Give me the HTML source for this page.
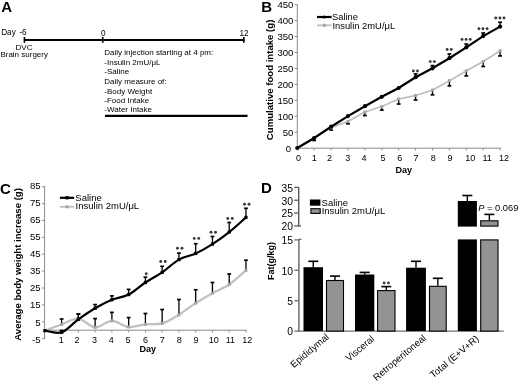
<!DOCTYPE html>
<html><head><meta charset="utf-8"><style>
html,body{margin:0;padding:0;background:#fff;width:520px;height:382px;overflow:hidden}
svg{display:block;filter:grayscale(1)}
text{font-family:"Liberation Sans", sans-serif;fill:#000}
</style></head><body>
<svg width="520" height="382" viewBox="0 0 520 382">
<text x="1.2" y="12.1" font-size="15" font-weight="bold">A</text>
<text x="1.2" y="35.1" font-size="8.2">Day</text>
<text x="19.4" y="35.3" font-size="8.2">-6</text>
<line x1="24" y1="40" x2="244.5" y2="40" stroke="#000" stroke-width="2.2"/>
<line x1="24.4" y1="37" x2="24.4" y2="42.8" stroke="#000" stroke-width="1.6"/>
<line x1="102.7" y1="37" x2="102.7" y2="42.8" stroke="#000" stroke-width="1.6"/>
<line x1="243.8" y1="37" x2="243.8" y2="42.8" stroke="#000" stroke-width="1.6"/>
<text x="100.9" y="35.5" font-size="8.2">0</text>
<text x="239.5" y="35.5" font-size="8.2">12</text>
<text x="15.6" y="50.1" font-size="8">DVC</text>
<text x="0.4" y="56.7" font-size="8">Brain surgery</text>
<text x="104.3" y="55.0" font-size="8">Daily injection starting at 4 pm:</text>
<text x="104.3" y="64.6" font-size="8">-Insulin 2mU/&#956;L</text>
<text x="104.3" y="73.9" font-size="8">-Saline</text>
<text x="104.3" y="84.2" font-size="8">Daily measure of:</text>
<text x="104.3" y="93.5" font-size="8">-Body Weight</text>
<text x="104.3" y="102.8" font-size="8">-Food Intake</text>
<text x="104.3" y="112.3" font-size="8">-Water Intake</text>
<line x1="105" y1="115.8" x2="247.5" y2="115.8" stroke="#000" stroke-width="2.2"/>
<text x="261.2" y="11.8" font-size="15" font-weight="bold">B</text>
<line x1="297.3" y1="4.2" x2="297.3" y2="148.7" stroke="#8a8a8a" stroke-width="1"/>
<line x1="294.8" y1="148.2" x2="297.3" y2="148.2" stroke="#8a8a8a" stroke-width="1"/>
<text x="291.2" y="151.5" font-size="9.6" text-anchor="end">0</text>
<line x1="294.8" y1="132.25555555555553" x2="297.3" y2="132.25555555555553" stroke="#8a8a8a" stroke-width="1"/>
<text x="293.4" y="135.56" font-size="9.6" text-anchor="end">50</text>
<line x1="294.8" y1="116.3111111111111" x2="297.3" y2="116.3111111111111" stroke="#8a8a8a" stroke-width="1"/>
<text x="293.4" y="119.61" font-size="9.6" text-anchor="end">100</text>
<line x1="294.8" y1="100.36666666666665" x2="297.3" y2="100.36666666666665" stroke="#8a8a8a" stroke-width="1"/>
<text x="293.4" y="103.67" font-size="9.6" text-anchor="end">150</text>
<line x1="294.8" y1="84.42222222222222" x2="297.3" y2="84.42222222222222" stroke="#8a8a8a" stroke-width="1"/>
<text x="293.4" y="87.72" font-size="9.6" text-anchor="end">200</text>
<line x1="294.8" y1="68.47777777777776" x2="297.3" y2="68.47777777777776" stroke="#8a8a8a" stroke-width="1"/>
<text x="293.4" y="71.78" font-size="9.6" text-anchor="end">250</text>
<line x1="294.8" y1="52.53333333333332" x2="297.3" y2="52.53333333333332" stroke="#8a8a8a" stroke-width="1"/>
<text x="293.4" y="55.83" font-size="9.6" text-anchor="end">300</text>
<line x1="294.8" y1="36.588888888888874" x2="297.3" y2="36.588888888888874" stroke="#8a8a8a" stroke-width="1"/>
<text x="293.4" y="39.89" font-size="9.6" text-anchor="end">350</text>
<line x1="294.8" y1="20.64444444444443" x2="297.3" y2="20.64444444444443" stroke="#8a8a8a" stroke-width="1"/>
<text x="293.4" y="23.94" font-size="9.6" text-anchor="end">400</text>
<line x1="294.8" y1="4.699999999999989" x2="297.3" y2="4.699999999999989" stroke="#8a8a8a" stroke-width="1"/>
<text x="293.4" y="8.0" font-size="9.6" text-anchor="end">450</text>
<line x1="297.3" y1="148.2" x2="500.8" y2="148.2" stroke="#8a8a8a" stroke-width="1"/>
<line x1="297.3" y1="148.2" x2="297.3" y2="150.39999999999998" stroke="#8a8a8a" stroke-width="1"/>
<text x="298.5" y="161.0" font-size="9" text-anchor="middle">0</text>
<line x1="314.2" y1="148.2" x2="314.2" y2="150.39999999999998" stroke="#8a8a8a" stroke-width="1"/>
<text x="314.2" y="161.0" font-size="9" text-anchor="middle">1</text>
<line x1="331.1" y1="148.2" x2="331.1" y2="150.39999999999998" stroke="#8a8a8a" stroke-width="1"/>
<text x="329.6" y="161.0" font-size="9" text-anchor="middle">2</text>
<line x1="348.0" y1="148.2" x2="348.0" y2="150.39999999999998" stroke="#8a8a8a" stroke-width="1"/>
<text x="347.7" y="161.0" font-size="9" text-anchor="middle">3</text>
<line x1="364.9" y1="148.2" x2="364.9" y2="150.39999999999998" stroke="#8a8a8a" stroke-width="1"/>
<text x="364.0" y="161.0" font-size="9" text-anchor="middle">4</text>
<line x1="381.8" y1="148.2" x2="381.8" y2="150.39999999999998" stroke="#8a8a8a" stroke-width="1"/>
<text x="383.1" y="161.0" font-size="9" text-anchor="middle">5</text>
<line x1="398.7" y1="148.2" x2="398.7" y2="150.39999999999998" stroke="#8a8a8a" stroke-width="1"/>
<text x="399.7" y="161.0" font-size="9" text-anchor="middle">6</text>
<line x1="415.6" y1="148.2" x2="415.6" y2="150.39999999999998" stroke="#8a8a8a" stroke-width="1"/>
<text x="415.9" y="161.0" font-size="9" text-anchor="middle">7</text>
<line x1="432.5" y1="148.2" x2="432.5" y2="150.39999999999998" stroke="#8a8a8a" stroke-width="1"/>
<text x="433.3" y="161.0" font-size="9" text-anchor="middle">8</text>
<line x1="449.4" y1="148.2" x2="449.4" y2="150.39999999999998" stroke="#8a8a8a" stroke-width="1"/>
<text x="450.1" y="161.0" font-size="9" text-anchor="middle">9</text>
<line x1="466.3" y1="148.2" x2="466.3" y2="150.39999999999998" stroke="#8a8a8a" stroke-width="1"/>
<text x="470.3" y="161.0" font-size="9" text-anchor="middle">10</text>
<line x1="483.2" y1="148.2" x2="483.2" y2="150.39999999999998" stroke="#8a8a8a" stroke-width="1"/>
<text x="487.2" y="161.0" font-size="9" text-anchor="middle">11</text>
<line x1="500.1" y1="148.2" x2="500.1" y2="150.39999999999998" stroke="#8a8a8a" stroke-width="1"/>
<text x="504.1" y="161.0" font-size="9" text-anchor="middle">12</text>
<text x="395.4" y="172.7" font-size="9" font-weight="bold">Day</text>
<text transform="translate(272.6,79.9) rotate(-90)" font-size="9.6" font-weight="bold" text-anchor="middle">Cumulative food intake (g)</text>
<polyline points="297.30,148 314.20,138 331.10,127.7 348.00,121.4 364.90,112 381.80,106.5 398.70,99 415.60,95.5 432.50,90.1 449.40,80.7 466.30,70.9 483.20,61.5 500.10,50.7" fill="none" stroke="#c0c0c0" stroke-width="1.8"/>
<line x1="314.2" y1="138" x2="314.2" y2="140.5" stroke="#000" stroke-width="1.3"/>
<line x1="312.3" y1="140.5" x2="316.09999999999997" y2="140.5" stroke="#000" stroke-width="1.7"/>
<rect x="312.70" y="136.5" width="3" height="3" fill="#a5a5a5"/>
<line x1="331.1" y1="127.7" x2="331.1" y2="130" stroke="#000" stroke-width="1.3"/>
<line x1="329.20000000000005" y1="130" x2="333.0" y2="130" stroke="#000" stroke-width="1.7"/>
<rect x="329.60" y="126.2" width="3" height="3" fill="#a5a5a5"/>
<line x1="348.0" y1="121.4" x2="348.0" y2="123.8" stroke="#000" stroke-width="1.3"/>
<line x1="346.1" y1="123.8" x2="349.9" y2="123.8" stroke="#000" stroke-width="1.7"/>
<rect x="346.50" y="119.9" width="3" height="3" fill="#a5a5a5"/>
<line x1="364.9" y1="112" x2="364.9" y2="115.6" stroke="#000" stroke-width="1.3"/>
<line x1="363.0" y1="115.6" x2="366.79999999999995" y2="115.6" stroke="#000" stroke-width="1.7"/>
<rect x="363.40" y="110.5" width="3" height="3" fill="#a5a5a5"/>
<line x1="381.8" y1="106.5" x2="381.8" y2="110.1" stroke="#000" stroke-width="1.3"/>
<line x1="379.90000000000003" y1="110.1" x2="383.7" y2="110.1" stroke="#000" stroke-width="1.7"/>
<rect x="380.30" y="105.0" width="3" height="3" fill="#a5a5a5"/>
<line x1="398.7" y1="99" x2="398.7" y2="104" stroke="#000" stroke-width="1.3"/>
<line x1="396.8" y1="104" x2="400.59999999999997" y2="104" stroke="#000" stroke-width="1.7"/>
<rect x="397.20" y="97.5" width="3" height="3" fill="#a5a5a5"/>
<line x1="415.6" y1="95.5" x2="415.6" y2="100" stroke="#000" stroke-width="1.3"/>
<line x1="413.70000000000005" y1="100" x2="417.5" y2="100" stroke="#000" stroke-width="1.7"/>
<rect x="414.10" y="94.0" width="3" height="3" fill="#a5a5a5"/>
<line x1="432.5" y1="90.1" x2="432.5" y2="94.8" stroke="#000" stroke-width="1.3"/>
<line x1="430.6" y1="94.8" x2="434.4" y2="94.8" stroke="#000" stroke-width="1.7"/>
<rect x="431.00" y="88.6" width="3" height="3" fill="#a5a5a5"/>
<line x1="449.4" y1="80.7" x2="449.4" y2="85.8" stroke="#000" stroke-width="1.3"/>
<line x1="447.5" y1="85.8" x2="451.29999999999995" y2="85.8" stroke="#000" stroke-width="1.7"/>
<rect x="447.90" y="79.2" width="3" height="3" fill="#a5a5a5"/>
<line x1="466.3" y1="70.9" x2="466.3" y2="75.9" stroke="#000" stroke-width="1.3"/>
<line x1="464.40000000000003" y1="75.9" x2="468.2" y2="75.9" stroke="#000" stroke-width="1.7"/>
<rect x="464.80" y="69.4" width="3" height="3" fill="#a5a5a5"/>
<line x1="483.2" y1="61.5" x2="483.2" y2="66.5" stroke="#000" stroke-width="1.3"/>
<line x1="481.3" y1="66.5" x2="485.09999999999997" y2="66.5" stroke="#000" stroke-width="1.7"/>
<rect x="481.70" y="60.0" width="3" height="3" fill="#a5a5a5"/>
<line x1="500.1" y1="50.7" x2="500.1" y2="55.9" stroke="#000" stroke-width="1.3"/>
<line x1="498.20000000000005" y1="55.9" x2="502.0" y2="55.9" stroke="#000" stroke-width="1.7"/>
<rect x="498.60" y="49.2" width="3" height="3" fill="#a5a5a5"/>
<polyline points="297.30,148 314.20,138 331.10,126.7 348.00,116.1 364.90,106.2 381.80,96.8 398.70,88 415.60,77.2 432.50,68.3 449.40,58.2 466.30,47.3 483.20,36.1 500.10,26.6" fill="none" stroke="#000" stroke-width="2.2"/>
<circle cx="297.30" cy="148" r="2.1" fill="#000"/>
<circle cx="314.20" cy="138" r="2.1" fill="#000"/>
<circle cx="331.10" cy="126.7" r="2.1" fill="#000"/>
<circle cx="348.00" cy="116.1" r="2.1" fill="#000"/>
<circle cx="364.90" cy="106.2" r="2.1" fill="#000"/>
<circle cx="381.80" cy="96.8" r="2.1" fill="#000"/>
<circle cx="398.70" cy="88" r="2.1" fill="#000"/>
<line x1="415.6" y1="77.2" x2="415.6" y2="73.9" stroke="#000" stroke-width="1.3"/>
<line x1="413.70000000000005" y1="73.9" x2="417.5" y2="73.9" stroke="#000" stroke-width="1.7"/>
<circle cx="415.60" cy="77.2" r="2.1" fill="#000"/>
<line x1="432.5" y1="68.3" x2="432.5" y2="65.6" stroke="#000" stroke-width="1.3"/>
<line x1="430.6" y1="65.6" x2="434.4" y2="65.6" stroke="#000" stroke-width="1.7"/>
<circle cx="432.50" cy="68.3" r="2.1" fill="#000"/>
<line x1="449.4" y1="58.2" x2="449.4" y2="54" stroke="#000" stroke-width="1.3"/>
<line x1="447.5" y1="54" x2="451.29999999999995" y2="54" stroke="#000" stroke-width="1.7"/>
<circle cx="449.40" cy="58.2" r="2.1" fill="#000"/>
<line x1="466.3" y1="47.3" x2="466.3" y2="44" stroke="#000" stroke-width="1.3"/>
<line x1="464.40000000000003" y1="44" x2="468.2" y2="44" stroke="#000" stroke-width="1.7"/>
<circle cx="466.30" cy="47.3" r="2.1" fill="#000"/>
<line x1="483.2" y1="36.1" x2="483.2" y2="33" stroke="#000" stroke-width="1.3"/>
<line x1="481.3" y1="33" x2="485.09999999999997" y2="33" stroke="#000" stroke-width="1.7"/>
<circle cx="483.20" cy="36.1" r="2.1" fill="#000"/>
<line x1="500.1" y1="26.6" x2="500.1" y2="22.3" stroke="#000" stroke-width="1.3"/>
<line x1="498.20000000000005" y1="22.3" x2="502.0" y2="22.3" stroke="#000" stroke-width="1.7"/>
<circle cx="500.10" cy="26.6" r="2.1" fill="#000"/>
<circle cx="413.35" cy="71" r="1.45" fill="#3a3a3a"/>
<circle cx="417.45" cy="71" r="1.45" fill="#3a3a3a"/>
<circle cx="430.25" cy="61.6" r="1.45" fill="#3a3a3a"/>
<circle cx="434.35" cy="61.6" r="1.45" fill="#3a3a3a"/>
<circle cx="447.15" cy="49.5" r="1.45" fill="#3a3a3a"/>
<circle cx="451.25" cy="49.5" r="1.45" fill="#3a3a3a"/>
<circle cx="462.00" cy="39.4" r="1.45" fill="#3a3a3a"/>
<circle cx="466.10" cy="39.4" r="1.45" fill="#3a3a3a"/>
<circle cx="470.20" cy="39.4" r="1.45" fill="#3a3a3a"/>
<circle cx="478.90" cy="28.8" r="1.45" fill="#3a3a3a"/>
<circle cx="483.00" cy="28.8" r="1.45" fill="#3a3a3a"/>
<circle cx="487.10" cy="28.8" r="1.45" fill="#3a3a3a"/>
<circle cx="495.80" cy="18" r="1.45" fill="#3a3a3a"/>
<circle cx="499.90" cy="18" r="1.45" fill="#3a3a3a"/>
<circle cx="504.00" cy="18" r="1.45" fill="#3a3a3a"/>
<line x1="317" y1="17" x2="331.6" y2="17" stroke="#000" stroke-width="2.2"/>
<circle cx="324.3" cy="17" r="1.6" fill="#000"/>
<line x1="317" y1="25.3" x2="331.6" y2="25.3" stroke="#c0c0c0" stroke-width="1.8"/>
<rect x="322.8" y="23.8" width="3" height="3" fill="#a5a5a5"/>
<text x="332.1" y="20.2" font-size="9.3">Saline</text>
<text x="332.4" y="28.9" font-size="9.4">Insulin 2mU/&#956;L</text>
<text x="0.0" y="193.8" font-size="15" font-weight="bold">C</text>
<line x1="44.6" y1="186.2" x2="44.6" y2="338.9" stroke="#8a8a8a" stroke-width="1"/>
<line x1="42.1" y1="186.72" x2="44.6" y2="186.72" stroke="#8a8a8a" stroke-width="1"/>
<text x="40.6" y="189.34" font-size="9.6" text-anchor="end">85</text>
<line x1="42.1" y1="203.6" x2="44.6" y2="203.6" stroke="#8a8a8a" stroke-width="1"/>
<text x="40.6" y="206.36" font-size="9.6" text-anchor="end">75</text>
<line x1="42.1" y1="220.48" x2="44.6" y2="220.48" stroke="#8a8a8a" stroke-width="1"/>
<text x="40.6" y="223.38" font-size="9.6" text-anchor="end">65</text>
<line x1="42.1" y1="237.35999999999999" x2="44.6" y2="237.35999999999999" stroke="#8a8a8a" stroke-width="1"/>
<text x="40.6" y="240.4" font-size="9.6" text-anchor="end">55</text>
<line x1="42.1" y1="254.24" x2="44.6" y2="254.24" stroke="#8a8a8a" stroke-width="1"/>
<text x="40.6" y="257.42" font-size="9.6" text-anchor="end">45</text>
<line x1="42.1" y1="271.12" x2="44.6" y2="271.12" stroke="#8a8a8a" stroke-width="1"/>
<text x="40.6" y="274.44" font-size="9.6" text-anchor="end">35</text>
<line x1="42.1" y1="288.0" x2="44.6" y2="288.0" stroke="#8a8a8a" stroke-width="1"/>
<text x="40.6" y="291.46" font-size="9.6" text-anchor="end">25</text>
<line x1="42.1" y1="304.88" x2="44.6" y2="304.88" stroke="#8a8a8a" stroke-width="1"/>
<text x="40.6" y="308.48" font-size="9.6" text-anchor="end">15</text>
<line x1="42.1" y1="321.76" x2="44.6" y2="321.76" stroke="#8a8a8a" stroke-width="1"/>
<text x="40.6" y="325.5" font-size="9.6" text-anchor="end">5</text>
<line x1="42.1" y1="338.64" x2="44.6" y2="338.64" stroke="#8a8a8a" stroke-width="1"/>
<text x="40.6" y="342.52" font-size="9.6" text-anchor="end">-5</text>
<line x1="44.6" y1="330.2" x2="246.8" y2="330.2" stroke="#8a8a8a" stroke-width="1"/>
<line x1="61.61" y1="330.2" x2="61.61" y2="332.4" stroke="#8a8a8a" stroke-width="1"/>
<text x="61.36" y="342.9" font-size="9" text-anchor="middle">1</text>
<line x1="78.37" y1="330.2" x2="78.37" y2="332.4" stroke="#8a8a8a" stroke-width="1"/>
<text x="77.02" y="342.9" font-size="9" text-anchor="middle">2</text>
<line x1="95.13" y1="330.2" x2="95.13" y2="332.4" stroke="#8a8a8a" stroke-width="1"/>
<text x="94.58" y="342.9" font-size="9" text-anchor="middle">3</text>
<line x1="111.89000000000001" y1="330.2" x2="111.89000000000001" y2="332.4" stroke="#8a8a8a" stroke-width="1"/>
<text x="111.14" y="342.9" font-size="9" text-anchor="middle">4</text>
<line x1="128.65" y1="330.2" x2="128.65" y2="332.4" stroke="#8a8a8a" stroke-width="1"/>
<text x="128.0" y="342.9" font-size="9" text-anchor="middle">5</text>
<line x1="145.41" y1="330.2" x2="145.41" y2="332.4" stroke="#8a8a8a" stroke-width="1"/>
<text x="145.46" y="342.9" font-size="9" text-anchor="middle">6</text>
<line x1="162.17000000000002" y1="330.2" x2="162.17000000000002" y2="332.4" stroke="#8a8a8a" stroke-width="1"/>
<text x="162.22" y="342.9" font-size="9" text-anchor="middle">7</text>
<line x1="178.93" y1="330.2" x2="178.93" y2="332.4" stroke="#8a8a8a" stroke-width="1"/>
<text x="179.28" y="342.9" font-size="9" text-anchor="middle">8</text>
<line x1="195.69" y1="330.2" x2="195.69" y2="332.4" stroke="#8a8a8a" stroke-width="1"/>
<text x="196.04" y="342.9" font-size="9" text-anchor="middle">9</text>
<line x1="212.45000000000002" y1="330.2" x2="212.45000000000002" y2="332.4" stroke="#8a8a8a" stroke-width="1"/>
<text x="213.7" y="342.9" font-size="9" text-anchor="middle">10</text>
<line x1="229.21" y1="330.2" x2="229.21" y2="332.4" stroke="#8a8a8a" stroke-width="1"/>
<text x="230.46" y="342.9" font-size="9" text-anchor="middle">11</text>
<line x1="245.97" y1="330.2" x2="245.97" y2="332.4" stroke="#8a8a8a" stroke-width="1"/>
<text x="247.22" y="342.9" font-size="9" text-anchor="middle">12</text>
<text x="139.6" y="351.7" font-size="9" font-weight="bold">Day</text>
<text transform="translate(20.6,264.4) rotate(-90)" font-size="9.6" font-weight="bold" text-anchor="middle">Average body weight increase (g)</text>
<path d="M44.85,330.60 C47.64,329.58 56.02,326.50 61.61,324.50 C67.20,322.50 72.78,318.12 78.37,318.60 C83.96,319.08 89.54,327.03 95.13,327.40 C100.72,327.77 106.30,320.87 111.89,320.80 C117.48,320.73 123.06,326.42 128.65,327.00 C134.24,327.58 139.82,324.90 145.41,324.30 C151.00,323.70 156.58,324.98 162.17,323.40 C167.76,321.82 173.34,318.18 178.93,314.80 C184.52,311.42 190.10,306.70 195.69,303.10 C201.28,299.50 206.86,296.30 212.45,293.20 C218.04,290.10 223.62,288.32 229.21,284.50 C234.80,280.68 243.18,272.67 245.97,270.30" fill="none" stroke="#c0c0c0" stroke-width="2.2"/>
<line x1="61.61" y1="324.5" x2="61.61" y2="319" stroke="#000" stroke-width="1.3"/>
<line x1="59.71" y1="319" x2="63.51" y2="319" stroke="#000" stroke-width="1.7"/>
<rect x="60.11" y="323.0" width="3" height="3" fill="#a5a5a5"/>
<line x1="78.37" y1="318.6" x2="78.37" y2="314" stroke="#000" stroke-width="1.3"/>
<line x1="76.47" y1="314" x2="80.27000000000001" y2="314" stroke="#000" stroke-width="1.7"/>
<rect x="76.87" y="317.1" width="3" height="3" fill="#a5a5a5"/>
<line x1="95.13" y1="327.4" x2="95.13" y2="318.6" stroke="#000" stroke-width="1.3"/>
<line x1="93.22999999999999" y1="318.6" x2="97.03" y2="318.6" stroke="#000" stroke-width="1.7"/>
<rect x="93.63" y="325.9" width="3" height="3" fill="#a5a5a5"/>
<line x1="111.89000000000001" y1="320.8" x2="111.89000000000001" y2="312.4" stroke="#000" stroke-width="1.3"/>
<line x1="109.99000000000001" y1="312.4" x2="113.79000000000002" y2="312.4" stroke="#000" stroke-width="1.7"/>
<rect x="110.39" y="319.3" width="3" height="3" fill="#a5a5a5"/>
<line x1="128.65" y1="327" x2="128.65" y2="317.6" stroke="#000" stroke-width="1.3"/>
<line x1="126.75" y1="317.6" x2="130.55" y2="317.6" stroke="#000" stroke-width="1.7"/>
<rect x="127.15" y="325.5" width="3" height="3" fill="#a5a5a5"/>
<line x1="145.41" y1="324.3" x2="145.41" y2="313.5" stroke="#000" stroke-width="1.3"/>
<line x1="143.51" y1="313.5" x2="147.31" y2="313.5" stroke="#000" stroke-width="1.7"/>
<rect x="143.91" y="322.8" width="3" height="3" fill="#a5a5a5"/>
<line x1="162.17000000000002" y1="323.4" x2="162.17000000000002" y2="309.5" stroke="#000" stroke-width="1.3"/>
<line x1="160.27" y1="309.5" x2="164.07000000000002" y2="309.5" stroke="#000" stroke-width="1.7"/>
<rect x="160.67" y="321.9" width="3" height="3" fill="#a5a5a5"/>
<line x1="178.93" y1="314.8" x2="178.93" y2="299.5" stroke="#000" stroke-width="1.3"/>
<line x1="177.03" y1="299.5" x2="180.83" y2="299.5" stroke="#000" stroke-width="1.7"/>
<rect x="177.43" y="313.3" width="3" height="3" fill="#a5a5a5"/>
<line x1="195.69" y1="303.1" x2="195.69" y2="289.8" stroke="#000" stroke-width="1.3"/>
<line x1="193.79" y1="289.8" x2="197.59" y2="289.8" stroke="#000" stroke-width="1.7"/>
<rect x="194.19" y="301.6" width="3" height="3" fill="#a5a5a5"/>
<line x1="212.45000000000002" y1="293.2" x2="212.45000000000002" y2="282.5" stroke="#000" stroke-width="1.3"/>
<line x1="210.55" y1="282.5" x2="214.35000000000002" y2="282.5" stroke="#000" stroke-width="1.7"/>
<rect x="210.95" y="291.7" width="3" height="3" fill="#a5a5a5"/>
<line x1="229.21" y1="284.5" x2="229.21" y2="274" stroke="#000" stroke-width="1.3"/>
<line x1="227.31" y1="274" x2="231.11" y2="274" stroke="#000" stroke-width="1.7"/>
<rect x="227.71" y="283.0" width="3" height="3" fill="#a5a5a5"/>
<line x1="245.97" y1="270.3" x2="245.97" y2="260.2" stroke="#000" stroke-width="1.3"/>
<line x1="244.07" y1="260.2" x2="247.87" y2="260.2" stroke="#000" stroke-width="1.7"/>
<rect x="244.47" y="268.8" width="3" height="3" fill="#a5a5a5"/>
<path d="M44.85,330.60 C47.64,330.88 56.02,334.18 61.61,332.30 C67.20,330.42 72.78,323.32 78.37,319.30 C83.96,315.28 89.54,311.45 95.13,308.20 C100.72,304.95 106.30,302.07 111.89,299.80 C117.48,297.53 123.06,297.48 128.65,294.60 C134.24,291.72 139.82,286.20 145.41,282.50 C151.00,278.80 156.58,276.22 162.17,272.40 C167.76,268.58 173.34,262.75 178.93,259.60 C184.52,256.45 190.10,256.08 195.69,253.50 C201.28,250.92 206.86,247.67 212.45,244.10 C218.04,240.53 223.62,236.55 229.21,232.10 C234.80,227.65 243.18,219.85 245.97,217.40" fill="none" stroke="#000" stroke-width="2.2"/>
<rect x="43.25" y="329.0" width="3.2" height="3.2" fill="#000"/>
<line x1="61.61" y1="332.3" x2="61.61" y2="330.5" stroke="#000" stroke-width="1.3"/>
<line x1="59.71" y1="330.5" x2="63.51" y2="330.5" stroke="#000" stroke-width="1.7"/>
<rect x="60.01" y="330.7" width="3.2" height="3.2" fill="#000"/>
<line x1="78.37" y1="319.3" x2="78.37" y2="314" stroke="#000" stroke-width="1.3"/>
<line x1="76.47" y1="314" x2="80.27000000000001" y2="314" stroke="#000" stroke-width="1.7"/>
<rect x="76.77" y="317.7" width="3.2" height="3.2" fill="#000"/>
<line x1="95.13" y1="308.2" x2="95.13" y2="304.6" stroke="#000" stroke-width="1.3"/>
<line x1="93.22999999999999" y1="304.6" x2="97.03" y2="304.6" stroke="#000" stroke-width="1.7"/>
<rect x="93.53" y="306.59999999999997" width="3.2" height="3.2" fill="#000"/>
<line x1="111.89000000000001" y1="299.8" x2="111.89000000000001" y2="295.9" stroke="#000" stroke-width="1.3"/>
<line x1="109.99000000000001" y1="295.9" x2="113.79000000000002" y2="295.9" stroke="#000" stroke-width="1.7"/>
<rect x="110.29" y="298.2" width="3.2" height="3.2" fill="#000"/>
<line x1="128.65" y1="294.6" x2="128.65" y2="289.4" stroke="#000" stroke-width="1.3"/>
<line x1="126.75" y1="289.4" x2="130.55" y2="289.4" stroke="#000" stroke-width="1.7"/>
<rect x="127.05" y="293.0" width="3.2" height="3.2" fill="#000"/>
<line x1="145.41" y1="282.5" x2="145.41" y2="277.2" stroke="#000" stroke-width="1.3"/>
<line x1="143.51" y1="277.2" x2="147.31" y2="277.2" stroke="#000" stroke-width="1.7"/>
<rect x="143.81" y="280.9" width="3.2" height="3.2" fill="#000"/>
<line x1="162.17000000000002" y1="272.4" x2="162.17000000000002" y2="266.3" stroke="#000" stroke-width="1.3"/>
<line x1="160.27" y1="266.3" x2="164.07000000000002" y2="266.3" stroke="#000" stroke-width="1.7"/>
<rect x="160.57" y="270.79999999999995" width="3.2" height="3.2" fill="#000"/>
<line x1="178.93" y1="259.6" x2="178.93" y2="253.1" stroke="#000" stroke-width="1.3"/>
<line x1="177.03" y1="253.1" x2="180.83" y2="253.1" stroke="#000" stroke-width="1.7"/>
<rect x="177.33" y="258.0" width="3.2" height="3.2" fill="#000"/>
<line x1="195.69" y1="253.5" x2="195.69" y2="243.7" stroke="#000" stroke-width="1.3"/>
<line x1="193.79" y1="243.7" x2="197.59" y2="243.7" stroke="#000" stroke-width="1.7"/>
<rect x="194.09" y="251.9" width="3.2" height="3.2" fill="#000"/>
<line x1="212.45000000000002" y1="244.1" x2="212.45000000000002" y2="236.5" stroke="#000" stroke-width="1.3"/>
<line x1="210.55" y1="236.5" x2="214.35000000000002" y2="236.5" stroke="#000" stroke-width="1.7"/>
<rect x="210.85" y="242.5" width="3.2" height="3.2" fill="#000"/>
<line x1="229.21" y1="232.1" x2="229.21" y2="222.5" stroke="#000" stroke-width="1.3"/>
<line x1="227.31" y1="222.5" x2="231.11" y2="222.5" stroke="#000" stroke-width="1.7"/>
<rect x="227.61" y="230.5" width="3.2" height="3.2" fill="#000"/>
<line x1="245.97" y1="217.4" x2="245.97" y2="208.3" stroke="#000" stroke-width="1.3"/>
<line x1="244.07" y1="208.3" x2="247.87" y2="208.3" stroke="#000" stroke-width="1.7"/>
<rect x="244.37" y="215.8" width="3.2" height="3.2" fill="#000"/>
<circle cx="146.21" cy="273.7" r="1.45" fill="#3a3a3a"/>
<circle cx="160.72" cy="261.5" r="1.45" fill="#3a3a3a"/>
<circle cx="165.22" cy="261.5" r="1.45" fill="#3a3a3a"/>
<circle cx="177.48" cy="248.3" r="1.45" fill="#3a3a3a"/>
<circle cx="181.98" cy="248.3" r="1.45" fill="#3a3a3a"/>
<circle cx="194.24" cy="238.4" r="1.45" fill="#3a3a3a"/>
<circle cx="198.74" cy="238.4" r="1.45" fill="#3a3a3a"/>
<circle cx="211.00" cy="232.2" r="1.45" fill="#3a3a3a"/>
<circle cx="215.50" cy="232.2" r="1.45" fill="#3a3a3a"/>
<circle cx="227.76" cy="218.5" r="1.45" fill="#3a3a3a"/>
<circle cx="232.26" cy="218.5" r="1.45" fill="#3a3a3a"/>
<circle cx="244.52" cy="204.3" r="1.45" fill="#3a3a3a"/>
<circle cx="249.02" cy="204.3" r="1.45" fill="#3a3a3a"/>
<line x1="59.9" y1="197.8" x2="74.2" y2="197.8" stroke="#000" stroke-width="2.2"/>
<rect x="65.5" y="196.2" width="3.2" height="3.2" fill="#000"/>
<line x1="59.9" y1="206.8" x2="74.2" y2="206.8" stroke="#c0c0c0" stroke-width="1.8"/>
<rect x="65.5" y="205.3" width="3" height="3" fill="#a5a5a5"/>
<text x="75.3" y="200.5" font-size="9.5">Saline</text>
<text x="75.6" y="209.1" font-size="9.5">Insulin 2mU/&#956;L</text>
<text x="261.0" y="193.0" font-size="15" font-weight="bold">D</text>
<line x1="298.7" y1="187.2" x2="298.7" y2="226.4" stroke="#5a5a5a" stroke-width="1.4"/>
<line x1="294.2" y1="187.4" x2="298.7" y2="187.4" stroke="#5a5a5a" stroke-width="1.3"/>
<text x="293.0" y="191.70000000000002" font-size="10.3" text-anchor="end">35</text>
<line x1="294.2" y1="200.23333333333335" x2="298.7" y2="200.23333333333335" stroke="#5a5a5a" stroke-width="1.3"/>
<text x="293.0" y="204.53333333333336" font-size="10.3" text-anchor="end">30</text>
<line x1="294.2" y1="213.06666666666666" x2="298.7" y2="213.06666666666666" stroke="#5a5a5a" stroke-width="1.3"/>
<text x="293.0" y="217.36666666666667" font-size="10.3" text-anchor="end">25</text>
<line x1="294.2" y1="225.9" x2="298.7" y2="225.9" stroke="#5a5a5a" stroke-width="1.3"/>
<text x="293.0" y="230.20000000000002" font-size="10.3" text-anchor="end">20</text>
<line x1="298.7" y1="226.0" x2="301.0" y2="226.0" stroke="#5a5a5a" stroke-width="1.3"/>
<line x1="298.9" y1="239.0" x2="298.9" y2="331.6" stroke="#6e6e6e" stroke-width="1.5"/>
<line x1="298.9" y1="239.3" x2="301.5" y2="239.3" stroke="#6e6e6e" stroke-width="1.3"/>
<line x1="294.4" y1="239.90000000000003" x2="298.9" y2="239.90000000000003" stroke="#6e6e6e" stroke-width="1.3"/>
<text x="293.0" y="244.10000000000002" font-size="10.3" text-anchor="end">15</text>
<line x1="294.4" y1="270.3" x2="298.9" y2="270.3" stroke="#6e6e6e" stroke-width="1.3"/>
<text x="293.0" y="274.5" font-size="10.3" text-anchor="end">10</text>
<line x1="294.4" y1="300.70000000000005" x2="298.9" y2="300.70000000000005" stroke="#6e6e6e" stroke-width="1.3"/>
<text x="293.0" y="304.90000000000003" font-size="10.3" text-anchor="end">5</text>
<line x1="294.4" y1="331.1" x2="298.9" y2="331.1" stroke="#6e6e6e" stroke-width="1.3"/>
<text x="293.0" y="335.3" font-size="10.3" text-anchor="end">0</text>
<line x1="298" y1="331.1" x2="503.8" y2="331.1" stroke="#6e6e6e" stroke-width="1.4"/>
<text transform="translate(273.5,261) rotate(-90)" font-size="9" font-weight="bold" text-anchor="middle">Fat(g/kg)</text>
<line x1="313.25" y1="267.2" x2="313.25" y2="261.3" stroke="#000" stroke-width="1.4"/>
<line x1="308.25" y1="261.3" x2="318.25" y2="261.3" stroke="#000" stroke-width="1.6"/>
<rect x="303.5" y="267.2" width="19.5" height="63.900000000000034" fill="#000"/>
<line x1="335.0" y1="280.0" x2="335.0" y2="276.1" stroke="#000" stroke-width="1.4"/>
<line x1="330.0" y1="276.1" x2="340.0" y2="276.1" stroke="#000" stroke-width="1.6"/>
<rect x="326.5" y="280.5" width="17.0" height="50.60000000000002" fill="#939393" stroke="#000" stroke-width="1.1"/>
<line x1="364.65" y1="274.5" x2="364.65" y2="272.4" stroke="#000" stroke-width="1.4"/>
<line x1="359.65" y1="272.4" x2="369.65" y2="272.4" stroke="#000" stroke-width="1.6"/>
<rect x="355.0" y="274.5" width="19.30000000000001" height="56.60000000000002" fill="#000"/>
<line x1="386.3" y1="290.1" x2="386.3" y2="286.6" stroke="#000" stroke-width="1.4"/>
<line x1="381.3" y1="286.6" x2="391.3" y2="286.6" stroke="#000" stroke-width="1.6"/>
<rect x="377.6" y="290.6" width="17.399999999999977" height="40.5" fill="#939393" stroke="#000" stroke-width="1.1"/>
<line x1="416.0" y1="267.7" x2="416.0" y2="261.3" stroke="#000" stroke-width="1.4"/>
<line x1="411.0" y1="261.3" x2="421.0" y2="261.3" stroke="#000" stroke-width="1.6"/>
<rect x="406.1" y="267.7" width="19.799999999999955" height="63.400000000000034" fill="#000"/>
<line x1="437.85" y1="285.8" x2="437.85" y2="278.3" stroke="#000" stroke-width="1.4"/>
<line x1="432.85" y1="278.3" x2="442.85" y2="278.3" stroke="#000" stroke-width="1.6"/>
<rect x="429.5" y="286.3" width="16.69999999999999" height="44.80000000000001" fill="#939393" stroke="#000" stroke-width="1.1"/>
<line x1="467.35" y1="201" x2="467.35" y2="195.5" stroke="#000" stroke-width="1.4"/>
<line x1="462.35" y1="195.5" x2="472.35" y2="195.5" stroke="#000" stroke-width="1.6"/>
<rect x="457.8" y="201" width="19.099999999999966" height="25.599999999999994" fill="#000"/>
<rect x="457.8" y="239.4" width="19.099999999999966" height="91.70000000000002" fill="#000"/>
<line x1="489.35" y1="220.3" x2="489.35" y2="214.4" stroke="#000" stroke-width="1.4"/>
<line x1="484.35" y1="214.4" x2="494.35" y2="214.4" stroke="#000" stroke-width="1.6"/>
<rect x="480.7" y="220.8" width="17.30000000000001" height="5.299999999999983" fill="#939393" stroke="#000" stroke-width="1.1"/>
<rect x="480.7" y="239.9" width="17.30000000000001" height="91.20000000000002" fill="#939393" stroke="#000" stroke-width="1.1"/>
<circle cx="384.15" cy="283" r="1.45" fill="#3a3a3a"/>
<circle cx="388.45" cy="283" r="1.45" fill="#3a3a3a"/>
<text x="478.3" y="211.3" font-size="9.3"><tspan font-style="italic">P</tspan> = 0.069</text>
<rect x="309.9" y="199.5" width="10.5" height="6.2" fill="#000"/>
<rect x="310.9" y="208.7" width="9.3" height="4.7" fill="#939393" stroke="#000" stroke-width="1.1"/>
<text x="321.6" y="205.9" font-size="9.5">Saline</text>
<text x="321.7" y="214.4" font-size="9.5">Insulin 2mU/&#956;L</text>
<text transform="translate(329.7,338) rotate(-40)" font-size="9.6" text-anchor="end">Epididymal</text>
<text transform="translate(375,340) rotate(-40)" font-size="9.6" text-anchor="end">Visceral</text>
<text transform="translate(426.7,339) rotate(-40)" font-size="9.6" text-anchor="end">Retroperitoneal</text>
<text transform="translate(479.5,339.8) rotate(-40)" font-size="9.6" text-anchor="end">Total (E+V+R)</text>
</svg>
</body></html>
